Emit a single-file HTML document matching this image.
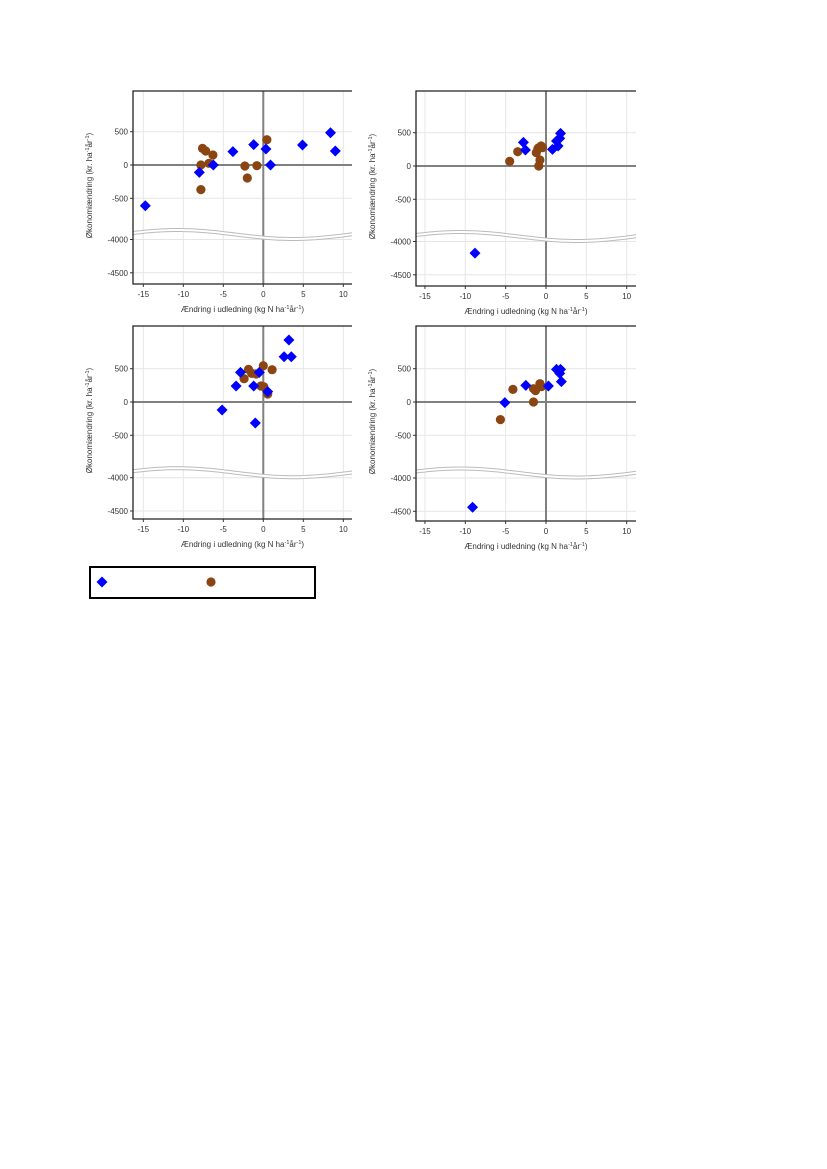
<!DOCTYPE html>
<html><head><meta charset="utf-8">
<style>
body{margin:0;background:#fff;width:827px;height:1169px;overflow:hidden;font-family:"Liberation Sans",sans-serif;}
svg{position:absolute;left:0;top:0}
</style></head>
<body>
<svg id="fig" width="827" height="1169"></svg>
<script>
const xTicks=[-15,-10,-5,0,5,10];
const yTicksUpper=[500,0,-500];
const yTicksLower=[-4000,-4500];
const p1BlueX=[-14.75,-8.0,-6.25,-3.8,-1.2,0.33,0.9,4.9,8.4,9.0];
const p1BlueY=[-611,-110,0,200,305,240,0,300,485,210];
const p1BrownX=[-7.8,-7.8,-7.6,-7.2,-6.8,-6.3,-2.3,-2.0,-0.8,0.45];
const p1BrownY=[0,-370,250,210,25,150,-15,-195,-10,380];
const p2BlueX=[-8.8,-2.8,-2.55,0.8,1.5,1.3,1.7,1.8];
const p2BlueY=[-4174,355,240,250,300,375,415,490];
const p2BrownX=[-4.5,-3.5,-1.2,-0.9,-0.6,-0.45,-0.75,-0.9,-1.0];
const p2BrownY=[70,215,200,275,300,275,90,0,260];
const p3BlueX=[-5.15,-3.4,-2.85,-1.2,-1.0,-0.5,0.55,2.6,3.2,3.5];
const p3BlueY=[-120,240,445,240,-315,445,155,680,930,680];
const p3BrownX=[-1.85,-2.4,-1.45,-0.9,0,1.1,-0.3,0.05,0.55];
const p3BrownY=[490,350,430,420,545,485,240,230,120];
const p4BlueX=[-9.1,-5.1,-2.5,0.3,1.3,1.8,1.7,1.9];
const p4BlueY=[-4440,-10,250,240,490,490,430,305];
const p4BrownX=[-5.65,-4.1,-1.55,-1.3,-0.75,-0.55,-1.55];
const p4BrownY=[-265,190,200,170,275,230,0];

const NS="http://www.w3.org/2000/svg";
const svg=document.getElementById('fig');
function mk(tag,attrs,parent){const e=document.createElementNS(NS,tag);for(const k in attrs)e.setAttribute(k,attrs[k]);(parent||svg).appendChild(e);return e;}

function panel(id,L,T,R,B,x0,xs,y0,lowOff,bx,by,cx,cy){
  const g=mk('g',{});
  
  
  const X=v=>x0+v*xs;
  const ys=33.3/500;
  const Y=v=>v>-2000? y0-v*ys : y0+lowOff+(-4000-v)*ys;
  xTicks.forEach(t=>{const l=mk('line',{x1:X(t),x2:X(t),y1:T,y2:B,stroke:'#e6e6e6','stroke-width':1},g);
    });
  yTicksUpper.concat(yTicksLower).forEach(t=>{const l=mk('line',{x1:L,x2:R,y1:Y(t),y2:Y(t),stroke:'#e6e6e6','stroke-width':1},g);
    });
  const zx=mk('line',{x1:X(0),x2:X(0),y1:T,y2:B,stroke:'#808080','stroke-width':2},g);
  
  const zy=mk('line',{x1:L,x2:R,y1:Y(0),y2:Y(0),stroke:'#808080','stroke-width':2},g);
  
  const bc=y0+lowOff-5; let d1='',d2='';
  for(let i=0;i<=60;i++){const x=L+(R-L)*i/60;const w=-4.5*Math.sin(2*Math.PI*(x-L)/(R-L)*0.95+0.35);
    d1+=(i?'L':'M')+x.toFixed(1)+','+(bc+w-1.5).toFixed(1);d2+=(i?'L':'M')+x.toFixed(1)+','+(bc+w+1.5).toFixed(1);}
  const brk=mk('path',{d:d1+d2.replace('M','L').split('L').slice(1).reverse().map(s=>'L'+s).join('')+'Z',fill:'#fff',stroke:'none'},g);
  
  mk('path',{d:d1,fill:'none',stroke:'#bbb','stroke-width':1},g);
  mk('path',{d:d2,fill:'none',stroke:'#bbb','stroke-width':1},g);
  const fr=mk('path',{d:`M${R},${T}H${L}V${B}H${R}`,fill:'none',stroke:'#222','stroke-width':1.3},g);
  
  xTicks.forEach(t=>{const tx=mk('text',{x:X(t),y:B+13,'font-size':8,fill:'#333','text-anchor':'middle'},g);tx.textContent=t;
    
    mk('line',{x1:X(t),x2:X(t),y1:B,y2:B+3,stroke:'#333'},g);});
  yTicksUpper.concat(yTicksLower).forEach(t=>{const tx=mk('text',{x:L-5,y:Y(t)+3,'font-size':8,fill:'#333','text-anchor':'end'},g);tx.textContent=t;
    
    mk('line',{x1:L-3,x2:L,y1:Y(t),y2:Y(t),stroke:'#333'},g);});
  const xt=mk('text',{x:(L+R)/2,y:B+28,'font-size':8,fill:'#333','text-anchor':'middle'},g);
  xt.innerHTML='Ændring i udledning (kg N ha<tspan font-size="5.5" dy="-3">-1</tspan><tspan dy="3">år</tspan><tspan font-size="5.5" dy="-3">-1</tspan><tspan dy="3">)</tspan>';
  
  const yt=mk('text',{x:0,y:0,'font-size':8,fill:'#333','text-anchor':'middle',transform:`translate(${L-41},${(T+B)/2-2}) rotate(-90)`},g);
  yt.innerHTML='Økonomiændring (kr. ha<tspan font-size="5.5" dy="-3">-1</tspan><tspan dy="3">år</tspan><tspan font-size="5.5" dy="-3">-1</tspan><tspan dy="3">)</tspan>';
  
  cx.forEach((v,i)=>{const c=mk('circle',{cx:X(v),cy:Y(cy[i]),r:4.6,fill:'#8b4513'},g);
    });
  bx.forEach((v,i)=>{const px=X(v),py=Y(by[i]);const p=mk('polygon',{points:`${px},${py-5.5} ${px+5.5},${py} ${px},${py+5.5} ${px-5.5},${py}`,fill:'#0000ff'},g);
    });
}
panel('panel-top-left',133,91,352,284,263.3,8,165,74.5,p1BlueX,p1BlueY,p1BrownX,p1BrownY);
panel('panel-top-right',416,91,636,286,546,8.07,166,75.5,p2BlueX,p2BlueY,p2BrownX,p2BrownY);
panel('panel-bottom-left',133,326,352,519,263.3,8,402,75.7,p3BlueX,p3BlueY,p3BrownX,p3BrownY);
panel('panel-bottom-right',416,326,636,521,546,8.07,402,76,p4BlueX,p4BlueY,p4BrownX,p4BrownY);
const lg=mk('g',{});


const lb=mk('rect',{x:90,y:567,width:225,height:31,fill:'#fff',stroke:'#000','stroke-width':2},lg);


const ld=mk('polygon',{points:'102,576.5 107.5,582 102,587.5 96.5,582',fill:'#0000ff'},lg);


const lc=mk('circle',{cx:211,cy:582,r:4.6,fill:'#8b4513'},lg);


</script>
</body></html>
